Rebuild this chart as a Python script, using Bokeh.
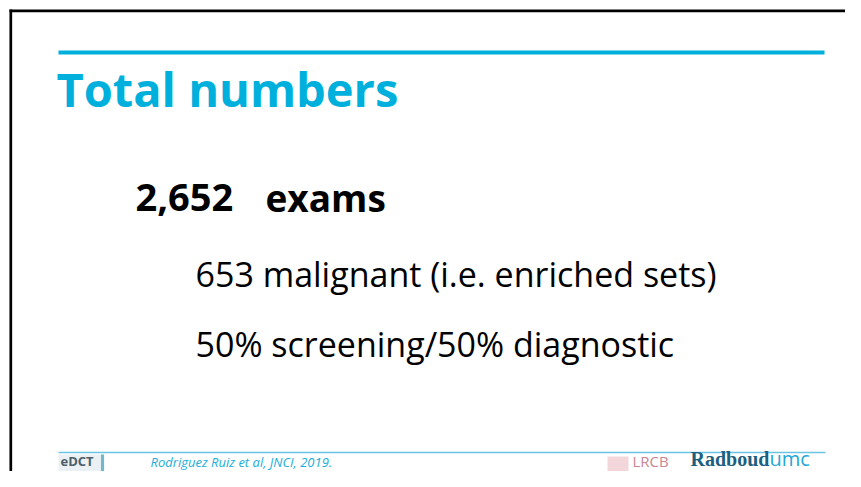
from bokeh.plotting import figure
from bokeh.models import Range1d
from bokeh.core.properties import value
from bokeh.embed import file_html
from bokeh.resources import INLINE

# ---- slide content ----
title_text = ["Total numbers"]
headline_number = ["2,652"]
headline_word = ["exams"]
bullet_lines = ["653 malignant (i.e. enriched sets)", "50% screening/50% diagnostic"]
citation_text = ["Rodriguez Ruiz et al, JNCI, 2019."]
logo_left = ["eDCT"]
logo_mid = ["LRCB"]
logo_right = ["Radboud", "umc"]

W, H = 845, 471
FONT = "Open Sans"
CYAN = "#00B0DC"

p = figure(width=W, height=H, x_range=Range1d(0, W), y_range=Range1d(H, 0),
           output_backend="svg", toolbar_location=None, min_border=0,
           x_axis_location=None, y_axis_location=None)
p.grid.visible = False
p.outline_line_color = None
p.background_fill_color = "white"
p.border_fill_color = "white"

SHIFT = 0.4  # empirical baseline correction (fraction of font size)


def put_text(x, baseline, texts, size, color, font=FONT, style="normal"):
    ys = [b - SHIFT * size for b in baseline]
    p.text(x=x, y=ys, text=texts, text_font=value(font), text_font_style=style,
           text_font_size=f"{size}px", text_color=color,
           text_baseline="alphabetic", text_align="left")


# slide border (top and left)
p.segment(x0=[9, 10.3], y0=[10.3, 9], x1=[W, 10.3], y1=[10.3, H],
          line_color="black", line_width=2.7)

# top accent line
p.segment(x0=[58], y0=[52], x1=[824], y1=[52], line_color=CYAN, line_width=4)

# title
put_text([56], [107], title_text, 47, CYAN, style="bold")

# headline
put_text([135], [212], headline_number, 38, "black", style="bold")
put_text([265], [212], headline_word, 37, "black", style="bold")

# bullet lines
put_text([195, 195], [287, 357], bullet_lines, 34, "black")

# footer line
p.segment(x0=[58], y0=[452], x1=[825], y1=[452], line_color="#6CC4E4", line_width=1.3)

# citation
put_text([150], [467], citation_text, 13, "#1AAEDA", style="italic")

# left logo (eDCT)
p.quad(left=[58], right=[104], top=[454], bottom=[H], fill_color="#EAF0F3", line_color=None)
p.segment(x0=[102], y0=[454], x1=[102], y1=[H], line_color="#6FB9CF", line_width=3)
put_text([60], [466], logo_left, 13, "#4D5E6A", style="bold")

# middle logo (LRCB)
p.quad(left=[607], right=[628], top=[456], bottom=[H], fill_color="#F2D6DA", line_color=None)
put_text([632], [466], logo_mid, 15, "#C98592")

# right logo (Radboudumc)
put_text([690], [466], [logo_right[0]], 20, "#1D5F80", font="Liberation Serif", style="bold")
put_text([769], [466], [logo_right[1]], 20, "#22A7D6")

open("out.html", "w").write(file_html(p, INLINE))
